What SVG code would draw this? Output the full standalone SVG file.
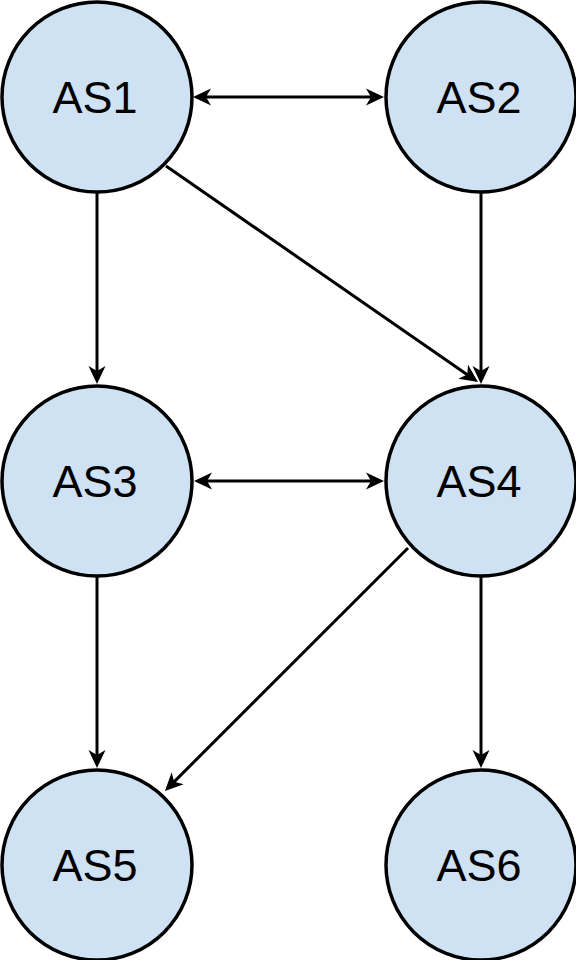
<svg xmlns="http://www.w3.org/2000/svg" width="576" height="960" viewBox="0 0 576 960">
  <style>
    .node circle { fill: #cfe2f3; stroke: #000; stroke-width: 3.5; }
    .node text { font-family: "Liberation Sans", Arial, sans-serif; font-size: 45px; fill: #000; text-anchor: middle; }
    .edge { stroke: #000; stroke-width: 3; fill: none; }
  </style>
  <defs>
    <marker id="arr" markerUnits="userSpaceOnUse" markerWidth="24" markerHeight="24" viewBox="-12 -12 24 24" refX="0" refY="0" orient="auto-start-reverse">
      <path d="M 9,0 L -9,-8.5 L -4,0 L -9,8.5 Z" fill="#000"/>
    </marker>
  </defs>
  <g id="connectors">
    <line class="edge" x1="202" y1="97" x2="375" y2="97" marker-start="url(#arr)" marker-end="url(#arr)"/>
    <line class="edge" x1="97" y1="192" x2="97" y2="375" marker-end="url(#arr)"/>
    <line class="edge" x1="481" y1="192" x2="481" y2="375" marker-end="url(#arr)"/>
    <line class="edge" x1="166" y1="166" x2="470.6" y2="376.9" marker-end="url(#arr)"/>
    <line class="edge" x1="203" y1="481" x2="375" y2="481" marker-start="url(#arr)" marker-end="url(#arr)"/>
    <line class="edge" x1="97" y1="576" x2="97" y2="759" marker-end="url(#arr)"/>
    <line class="edge" x1="481" y1="576" x2="481" y2="759" marker-end="url(#arr)"/>
    <line class="edge" x1="408" y1="548" x2="171.3" y2="784.6" marker-end="url(#arr)"/>
  </g>
  <g id="AS1" class="node"><circle cx="97" cy="97" r="95"/><text x="95" y="113">AS1</text></g>
  <g id="AS2" class="node"><circle cx="481" cy="97" r="95"/><text x="479" y="113">AS2</text></g>
  <g id="AS3" class="node"><circle cx="97" cy="481" r="95"/><text x="95" y="497">AS3</text></g>
  <g id="AS4" class="node"><circle cx="481" cy="481" r="95"/><text x="479" y="497">AS4</text></g>
  <g id="AS5" class="node"><circle cx="97" cy="865" r="95"/><text x="95" y="881">AS5</text></g>
  <g id="AS6" class="node"><circle cx="481" cy="865" r="95"/><text x="479" y="881">AS6</text></g>
</svg>
